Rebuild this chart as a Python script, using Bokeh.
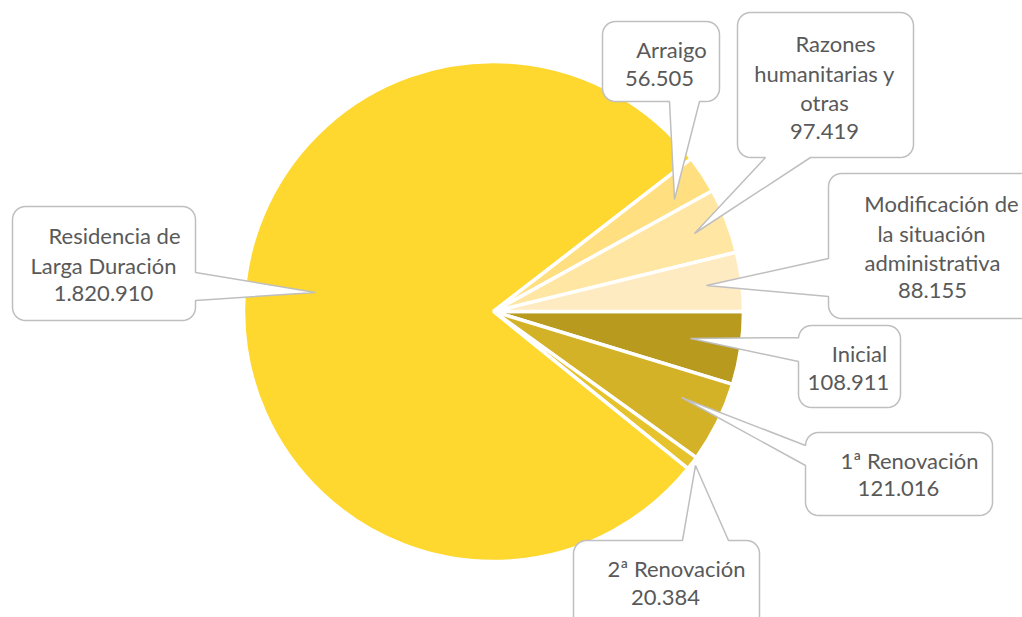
import math
from bokeh.plotting import figure
from bokeh.models import Range1d, ColumnDataSource
from bokeh.embed import file_html
from bokeh.resources import INLINE
from bokeh.core.properties import value

# ---------------- data ----------------
categories = ["Inicial", "1ª Renovación", "2ª Renovación",
              "Residencia de Larga Duración", "Arraigo",
              "Razones humanitarias y otras",
              "Modificación de la situación administrativa"]
label_lines = [["Inicial"], ["1ª Renovación"], ["2ª Renovación"],
               ["Residencia de", "Larga Duración"], ["Arraigo"],
               ["Razones", "humanitarias y", "otras"],
               ["Modificación de", "la situación", "administrativa"]]
values = [108911, 121016, 20384, 1820910, 56505, 97419, 88155]
colors = ["#B89A1E", "#D4B227", "#E6C22C", "#FED72F",
          "#FFDF80", "#FFE6A3", "#FFEBC2"]

# ---------------- layout (image pixel coords, y down) ----------------
W, H = 1022, 617
PIE_C = (493, 311)
PIE_R = 250
callouts = {
    "Inicial": dict(box=(798, 325, 900, 407), side="left", base=(337, 361), tip=(690, 338),
                    lines=[(859, 353), (848, 382)]),
    "1ª Renovación": dict(box=(805, 432, 992, 515), side="left", base=(445, 465), tip=(681, 397),
                          lines=[(909, 460), (898, 488)]),
    "2ª Renovación": dict(box=(573, 540, 759, 650), side="top", base=(682, 728), tip=(695, 465),
                          lines=[(676, 568), (665, 597)]),
    "Residencia de Larga Duración": dict(box=(12, 206, 195, 320), side="right", base=(272, 300),
                                         tip=(315, 292),
                                         lines=[(114, 235), (103, 265), (103, 293)]),
    "Arraigo": dict(box=(602, 21, 719, 101), side="bottom", base=(669, 699), tip=(674, 199),
                    lines=[(671, 49), (659, 78)]),
    "Razones humanitarias y otras": dict(box=(737, 12, 913, 157), side="bottom", base=(765, 810),
                                         tip=(694, 233),
                                         lines=[(835, 43), (824, 73), (824, 102), (824, 131)]),
    "Modificación de la situación administrativa": dict(box=(828, 173, 1045, 318), side="left",
                                                        base=(258, 296), tip=(706, 285),
                                                        lines=[(941, 203), (931, 233), (932, 262),
                                                               (932, 290)]),
}


def fmt(v):
    return f"{v:,}".replace(",", ".")


def arc(cx, cy, r, t0, t1, n=8):
    return [(cx + r * math.cos(math.radians(t0 + (t1 - t0) * k / n)),
             cy + r * math.sin(math.radians(t0 + (t1 - t0) * k / n))) for k in range(n + 1)]


def callout_shape(box, side, base, tip, r=13):
    x0, y0, x1, y1 = box
    a, b = base
    pts = []
    pts.append((x0 + r, y0))
    if side == "top":
        pts += [(a, y0), tip, (b, y0)]
    pts.append((x1 - r, y0))
    pts += arc(x1 - r, y0 + r, r, 270, 360)
    if side == "right":
        pts += [(x1, a), tip, (x1, b)]
    pts.append((x1, y1 - r))
    pts += arc(x1 - r, y1 - r, r, 0, 90)
    if side == "bottom":
        pts += [(b, y1), tip, (a, y1)]
    pts.append((x0 + r, y1))
    pts += arc(x0 + r, y1 - r, r, 90, 180)
    if side == "left":
        pts += [(x0, b), tip, (x0, a)]
    pts.append((x0, y0 + r))
    pts += arc(x0 + r, y0 + r, r, 180, 270)
    xs = [p[0] for p in pts]
    ys = [H - p[1] for p in pts]
    return xs, ys


# ---------------- figure ----------------
p = figure(width=W, height=H, x_range=Range1d(0, W), y_range=Range1d(0, H),
           output_backend="svg", toolbar_location=None, min_border=0)
p.axis.visible = False
p.grid.visible = False
p.outline_line_color = None
p.background_fill_color = "white"
p.border_fill_color = "white"

total = sum(values)
starts, ends = [], []
cum = 0.0
for v in values:
    frac0 = cum / total
    cum += v
    frac1 = cum / total
    # clockwise from 3 o'clock
    starts.append(-frac1 * 2 * math.pi)
    ends.append(-frac0 * 2 * math.pi)

src = ColumnDataSource(dict(cat=categories, val=values, start=starts, end=ends, color=colors))
p.wedge(x=PIE_C[0], y=H - PIE_C[1], radius=PIE_R, start_angle="start", end_angle="end",
        direction="anticlock", fill_color="color", line_color="white", line_width=3.5, source=src)

tx, ty, tt = [], [], []
for cat, lines, v in zip(categories, label_lines, values):
    c = callouts[cat]
    xs, ys = callout_shape(c["box"], c["side"], c["base"], c["tip"])
    p.patch(xs, ys, fill_color="white", line_color="#BFBFBF", line_width=1.5)
    texts = lines + [fmt(v)]
    for (lx, ly), t in zip(c["lines"], texts):
        tx.append(lx)
        ty.append(H - ly)
        tt.append(t)

p.text(x=tx, y=ty, text=tt, text_font=value("Lato"), text_font_size="22px",
       text_color="#595959", text_align="center", text_baseline="middle")

open("out.html", "w").write(file_html(p, INLINE))
